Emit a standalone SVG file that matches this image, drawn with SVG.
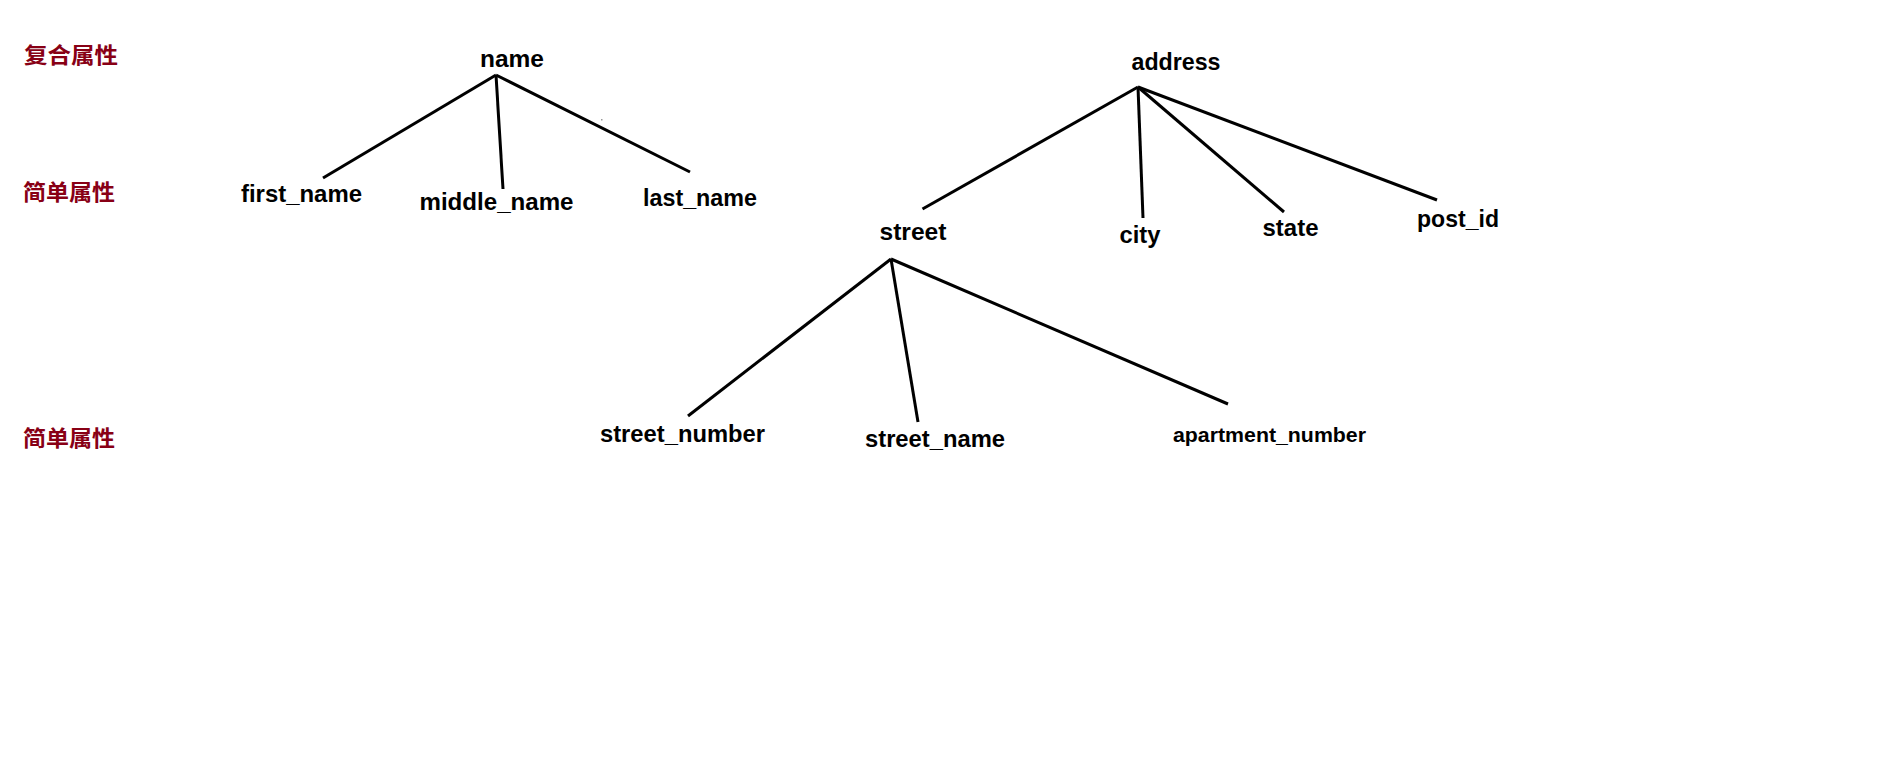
<svg xmlns="http://www.w3.org/2000/svg" width="1897" height="773" viewBox="0 0 1897 773">
<style>
.bg{fill:#ffffff}
.lbl{font-family:"Liberation Sans",Arial,sans-serif;font-weight:bold;font-size:24px;fill:#000000;text-anchor:middle}
.sm{font-size:21px}
.cat{font-family:"Noto Sans CJK SC","Noto Sans",sans-serif;font-weight:bold;font-size:22px;fill:#880015}
.edge{stroke:#000000;stroke-width:3;fill:none}
</style>
<rect class="bg" x="0" y="0" width="1897" height="773"/>
<g id="legend">
<text class="cat" x="24" y="63" textLength="94" lengthAdjust="spacingAndGlyphs">复合属性</text>
<text class="cat" x="23" y="200" textLength="92" lengthAdjust="spacingAndGlyphs">简单属性</text>
<text class="cat" x="23" y="446" textLength="92" lengthAdjust="spacingAndGlyphs">简单属性</text>
</g>
<g id="connectors">
<line class="edge" x1="496" y1="75" x2="323" y2="178"/>
<line class="edge" x1="496" y1="75" x2="503" y2="189"/>
<line class="edge" x1="496" y1="75" x2="690" y2="172"/>
<line class="edge" x1="1138" y1="87" x2="922.5" y2="209"/>
<line class="edge" x1="1138" y1="87" x2="1143" y2="218"/>
<line class="edge" x1="1138" y1="87" x2="1284" y2="212"/>
<line class="edge" x1="1138" y1="87" x2="1437" y2="200"/>
<line class="edge" x1="891" y1="259" x2="688" y2="416"/>
<line class="edge" x1="891" y1="259" x2="918" y2="422"/>
<line class="edge" x1="891" y1="259" x2="1228" y2="404"/>
</g>
<rect x="601" y="119" width="1.5" height="1.5" fill="#999999"/>
<g id="node-name"><text class="lbl" x="512" y="67" textLength="64" lengthAdjust="spacingAndGlyphs">name</text></g>
<g id="node-first_name"><text class="lbl" x="301.5" y="202" textLength="121" lengthAdjust="spacingAndGlyphs">first_name</text></g>
<g id="node-middle_name"><text class="lbl" x="496.5" y="210" textLength="154" lengthAdjust="spacingAndGlyphs">middle_name</text></g>
<g id="node-last_name"><text class="lbl" x="700" y="206" textLength="114" lengthAdjust="spacingAndGlyphs">last_name</text></g>
<g id="node-address"><text class="lbl" x="1176" y="70" textLength="89" lengthAdjust="spacingAndGlyphs">address</text></g>
<g id="node-street"><text class="lbl" x="913" y="240" textLength="67" lengthAdjust="spacingAndGlyphs">street</text></g>
<g id="node-city"><text class="lbl" x="1140" y="243" textLength="41" lengthAdjust="spacingAndGlyphs">city</text></g>
<g id="node-state"><text class="lbl" x="1290.5" y="236" textLength="56" lengthAdjust="spacingAndGlyphs">state</text></g>
<g id="node-post_id"><text class="lbl" x="1458" y="227" textLength="82" lengthAdjust="spacingAndGlyphs">post_id</text></g>
<g id="node-street_number"><text class="lbl" x="682.5" y="442" textLength="165" lengthAdjust="spacingAndGlyphs">street_number</text></g>
<g id="node-street_name"><text class="lbl" x="935" y="447" textLength="140" lengthAdjust="spacingAndGlyphs">street_name</text></g>
<g id="node-apartment_number"><text class="lbl sm" x="1269.5" y="442" textLength="193" lengthAdjust="spacingAndGlyphs">apartment_number</text></g>
</svg>
